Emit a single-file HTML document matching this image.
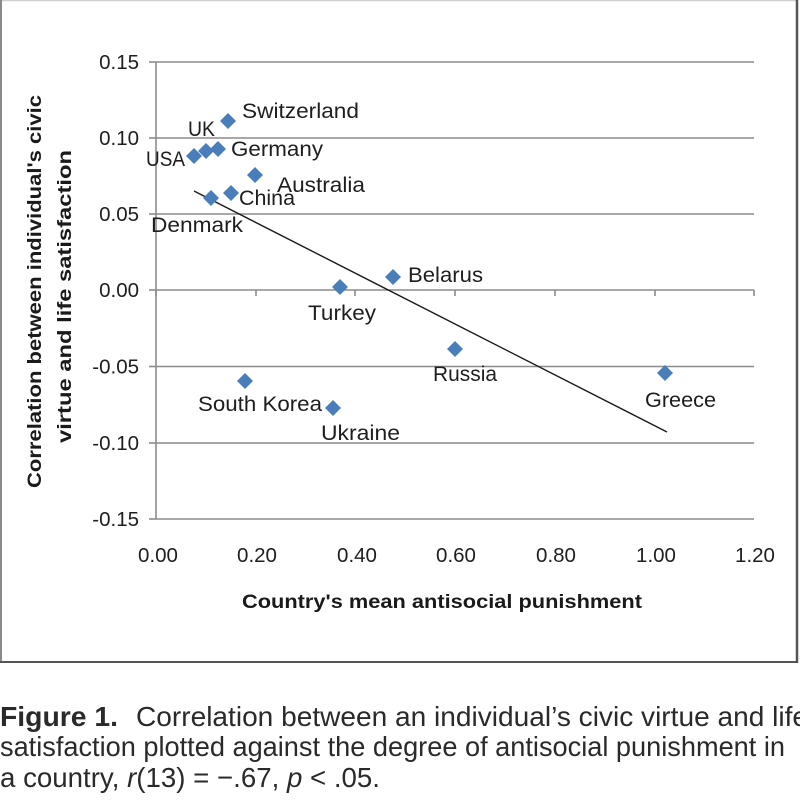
<!DOCTYPE html>
<html>
<head>
<meta charset="utf-8">
<style>
  html, body { margin: 0; padding: 0; background: #ffffff; }
  body { width: 800px; height: 807px; overflow: hidden; }
  svg { display: block; }
  .tick { font-family: "Liberation Sans", sans-serif; font-size: 20.5px; fill: #1e1e1e; }
  .lbl { font-family: "Liberation Sans", sans-serif; font-size: 21px; fill: #1e1e1e; }
  .ttl { font-family: "Liberation Sans", sans-serif; font-size: 19px; font-weight: bold; fill: #1a1a1a; }
  .cap { font-family: "Liberation Sans", sans-serif; font-size: 28px; fill: #2a2a2a; }
</style>
</head>
<body>
<svg width="800" height="807" viewBox="0 0 800 807" xmlns="http://www.w3.org/2000/svg">
  <!-- chart frame -->
  <line x1="0" y1="0.5" x2="798" y2="0.5" stroke="#cfcfcf" stroke-width="1.5"/>
  <line x1="1" y1="0" x2="1" y2="662" stroke="#8a8a8a" stroke-width="2"/>
  <line x1="797" y1="0" x2="797" y2="663" stroke="#555" stroke-width="2.5"/>
  <line x1="0" y1="662" x2="798" y2="662" stroke="#555" stroke-width="2"/>

  <!-- gridlines -->
  <g stroke="#8c8c8c" stroke-width="1.6">
    <line x1="156" y1="62" x2="754" y2="62"/>
    <line x1="156" y1="138" x2="754" y2="138"/>
    <line x1="156" y1="214" x2="754" y2="214"/>
    <line x1="156" y1="366.5" x2="754" y2="366.5"/>
    <line x1="156" y1="443" x2="754" y2="443"/>
    <line x1="156" y1="519" x2="754" y2="519"/>
    <!-- x axis at 0 -->
    <line x1="156" y1="290" x2="754" y2="290"/>
    <!-- y axis -->
    <line x1="156" y1="62" x2="156" y2="519"/>
    <!-- y ticks -->
    <line x1="149" y1="62" x2="156" y2="62"/>
    <line x1="149" y1="138" x2="156" y2="138"/>
    <line x1="149" y1="214" x2="156" y2="214"/>
    <line x1="149" y1="290" x2="156" y2="290"/>
    <line x1="149" y1="366.5" x2="156" y2="366.5"/>
    <line x1="149" y1="443" x2="156" y2="443"/>
    <line x1="149" y1="519" x2="156" y2="519"/>
    <!-- x ticks -->
    <line x1="156" y1="290" x2="156" y2="296"/>
    <line x1="256" y1="290" x2="256" y2="296"/>
    <line x1="355" y1="290" x2="355" y2="296"/>
    <line x1="455" y1="290" x2="455" y2="296"/>
    <line x1="555" y1="290" x2="555" y2="296"/>
    <line x1="655" y1="290" x2="655" y2="296"/>
    <line x1="754" y1="290" x2="754" y2="296"/>
  </g>

  <!-- y tick labels -->
  <g class="tick" text-anchor="end">
    <text x="139" y="69">0.15</text>
    <text x="139" y="145">0.10</text>
    <text x="139" y="221">0.05</text>
    <text x="139" y="297">0.00</text>
    <text x="139" y="373.5">-0.05</text>
    <text x="139" y="450">-0.10</text>
    <text x="139" y="526">-0.15</text>
  </g>
  <!-- x tick labels -->
  <g class="tick" text-anchor="middle">
    <text x="158" y="562">0.00</text>
    <text x="257" y="562">0.20</text>
    <text x="357" y="562">0.40</text>
    <text x="456" y="562">0.60</text>
    <text x="556" y="562">0.80</text>
    <text x="656" y="562">1.00</text>
    <text x="755" y="562">1.20</text>
  </g>

  <!-- axis titles -->
  <text class="ttl" x="242" y="608" textLength="400" lengthAdjust="spacingAndGlyphs">Country's mean antisocial punishment</text>
  <text class="ttl" transform="translate(41,488) rotate(-90)" x="0" y="0" textLength="393" lengthAdjust="spacingAndGlyphs">Correlation between individual's civic</text>
  <text class="ttl" transform="translate(71,443) rotate(-90)" x="0" y="0" textLength="293" lengthAdjust="spacingAndGlyphs">virtue and life satisfaction</text>

  <!-- trend line -->
  <line x1="194" y1="191" x2="667" y2="432" stroke="#1a1a1a" stroke-width="1.4"/>

  <!-- data points -->
  <g fill="#4a7ebb">
    <path d="M228 113 L236 121 L228 129 L220 121 Z"/>
    <path d="M206 143 L214 151 L206 159 L198 151 Z"/>
    <path d="M194 148 L202 156 L194 164 L186 156 Z"/>
    <path d="M218 141 L226 149 L218 157 L210 149 Z"/>
    <path d="M255 167 L263 175 L255 183 L247 175 Z"/>
    <path d="M231 185 L239 193 L231 201 L223 193 Z"/>
    <path d="M211 190 L219 198 L211 206 L203 198 Z"/>
    <path d="M340 279 L348 287 L340 295 L332 287 Z"/>
    <path d="M393 269 L401 277 L393 285 L385 277 Z"/>
    <path d="M455 341 L463 349 L455 357 L447 349 Z"/>
    <path d="M665 365 L673 373 L665 381 L657 373 Z"/>
    <path d="M245 373 L253 381 L245 389 L237 381 Z"/>
    <path d="M333 400 L341 408 L333 416 L325 408 Z"/>
  </g>

  <!-- data labels -->
  <g class="lbl">
    <text x="242" y="118" textLength="117" lengthAdjust="spacingAndGlyphs">Switzerland</text>
    <text x="188" y="136" textLength="27" lengthAdjust="spacingAndGlyphs">UK</text>
    <text x="146" y="166" textLength="39" lengthAdjust="spacingAndGlyphs">USA</text>
    <text x="231" y="156" textLength="92" lengthAdjust="spacingAndGlyphs">Germany</text>
    <text x="277" y="192" textLength="88" lengthAdjust="spacingAndGlyphs">Australia</text>
    <text x="239" y="205" textLength="56" lengthAdjust="spacingAndGlyphs">China</text>
    <text x="151" y="232" textLength="92" lengthAdjust="spacingAndGlyphs">Denmark</text>
    <text x="408" y="282" textLength="75" lengthAdjust="spacingAndGlyphs">Belarus</text>
    <text x="308" y="320" textLength="68" lengthAdjust="spacingAndGlyphs">Turkey</text>
    <text x="433" y="381" textLength="64" lengthAdjust="spacingAndGlyphs">Russia</text>
    <text x="645" y="407" textLength="71" lengthAdjust="spacingAndGlyphs">Greece</text>
    <text x="198" y="411" textLength="124" lengthAdjust="spacingAndGlyphs">South Korea</text>
    <text x="321" y="440" textLength="79" lengthAdjust="spacingAndGlyphs">Ukraine</text>
  </g>

  <!-- caption -->
  <text class="cap" x="0" y="726" font-weight="bold" textLength="118" lengthAdjust="spacingAndGlyphs">Figure 1.</text>
  <text class="cap" x="136" y="726" textLength="672" lengthAdjust="spacingAndGlyphs">Correlation between an individual’s civic virtue and life</text>
  <text class="cap" x="0" y="756" textLength="785" lengthAdjust="spacingAndGlyphs">satisfaction plotted against the degree of antisocial punishment in</text>
  <text class="cap" x="0" y="787" textLength="380" lengthAdjust="spacingAndGlyphs">a country, <tspan font-style="italic">r</tspan>(13) = −.67, <tspan font-style="italic">p</tspan> &lt; .05.</text>
</svg>
</body>
</html>
